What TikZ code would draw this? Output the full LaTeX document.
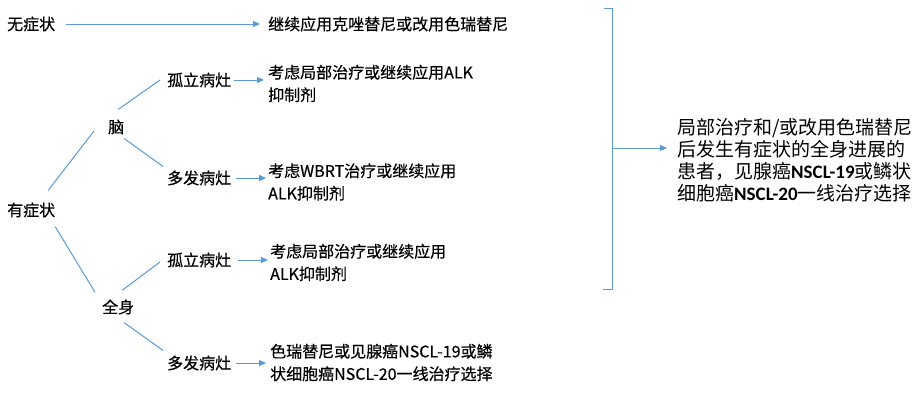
\documentclass[tikz,border=0pt]{standalone}
\usepackage{fontspec}
\setmainfont{Noto Sans CJK SC}
\newfontfamily\lefttxt{Noto Sans CJK SC}[FakeBold=0.4]
\newfontfamily\carl{Carlito}
\usetikzlibrary{arrows.meta,calc}
\definecolor{lineblue}{HTML}{5B9BD5}
\begin{document}
\begin{tikzpicture}[x=1pt,y=-1pt,
  lbl/.style={anchor=west,inner sep=0pt,font=\lefttxt\fontsize{16}{22.5}\selectfont},
  txt/.style={anchor=west,inner sep=0pt,align=left,font=\lefttxt\fontsize{16}{22.5}\selectfont},
  rt/.style={anchor=west,inner sep=0pt,align=left,font=\fontsize{19}{22}\selectfont},
  ln/.style={draw=lineblue,line width=1pt},
  arr/.style={ln,-{Triangle[length=7pt,width=6pt]}}]
\useasboundingbox[fill=white] (0,0) rectangle (922,400);
% nodes
\node[lbl] (wu) at (7,24) {无症状};
\node[lbl] (t0) at (268,24) {继续应用克唑替尼或改用色瑞替尼};
\node[lbl] (ys) at (7,210) {有症状};
\node[lbl] (nao) at (108,127) {脑};
\node[lbl] (qs) at (102,307) {全身};
\node[lbl] (g1) at (167,80) {孤立病灶};
\node[lbl] (d1) at (167,178) {多发病灶};
\node[lbl] (g2) at (167,260) {孤立病灶};
\node[lbl] (d2) at (167,363) {多发病灶};
\node[txt] (t1) at (268,83.5) {考虑局部治疗或继续应用ALK\\抑制剂};
\node[txt] (t2) at (268,182) {考虑WBRT治疗或继续应用\\ALK抑制剂};
\node[txt] (t3) at (270,262.5) {考虑局部治疗或继续应用\\ALK抑制剂};
\node[txt] (t4) at (270,362.5) {色瑞替尼或见腺癌NSCL-19或鳞\\状细胞癌NSCL-20一线治疗选择};
\node[rt] (r) at (677,160) {局部治疗和/或改用色瑞替尼\\后发生有症状的全身进展的\\患者，见腺癌{\carl\bfseries NSCL-19}或鳞状\\细胞癌{\carl\bfseries NSCL-20}一线治疗选择};
% arrows
\draw[arr,shorten <=11pt,shorten >=8pt] (wu.east) -- (wu.east -| t0.west);
\draw[arr,shorten <=3pt,shorten >=4pt] (g1.east) -- (g1.east -| t1.west);
\draw[arr,shorten <=5pt,shorten >=2pt] (d1.east) -- (d1.east -| t2.west);
\draw[arr,shorten <=7pt,shorten >=2pt] (g2.east) -- (g2.east -| t3.west);
\draw[arr,shorten <=5pt,shorten >=4pt] (d2.east) -- (d2.east -| t4.west);
% tree lines
\draw[ln] ($(ys.north)+(17,-12)$) -- ($(nao.west)+(-14,4)$);
\draw[ln] ($(nao.north)+(2,-10)$) -- ($(g1.west)+(-7,0)$);
\draw[ln] ($(nao.south)+(8,4)$) -- ($(d1.north west)+(-4,-4)$);
\draw[ln] ($(ys.south)+(24,9)$) -- ($(qs.north west)+(-7,-7)$);
\draw[ln] ($(qs.north)+(4,-9)$) -- ($(g2.west)+(-7,2)$);
\draw[ln] ($(qs.south)+(6,8)$) -- ($(d2.north west)+(-4,-5)$);
% bracket
\coordinate (bt1) at (604,8);
\coordinate (bt2) at (612,8);
\coordinate (bb2) at (612,289);
\coordinate (bb1) at (603,289);
\coordinate (bm) at (612,148);
\draw[ln] (bt1) -- (bt2) -- (bb2) -- (bb1);
\draw[arr,shorten >=10pt] (bm) -- (bm -| r.west);
\end{tikzpicture}
\end{document}
